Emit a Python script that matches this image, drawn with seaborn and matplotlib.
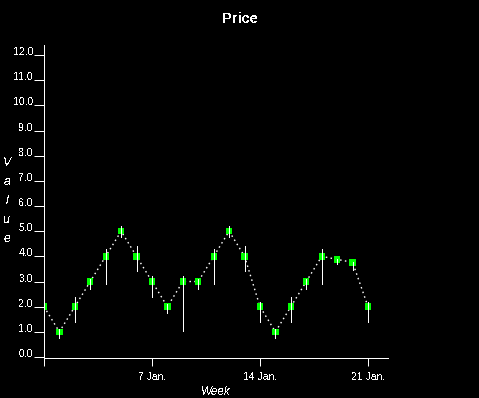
import matplotlib
matplotlib.use("Agg")
import matplotlib.pyplot as plt
import pandas as pd
import seaborn as sns

# ---- data ----
days = list(range(22))
close = [2.0, 1.0, 2.0, 3.0, 4.0, 5.0, 4.0, 3.0, 2.0, 3.0, 3.0,
         4.0, 5.0, 4.0, 2.0, 1.0, 2.0, 3.0, 4.0, 3.88, 3.76, 2.0]
high = [2.2, 1.1, 2.4, 3.1, 4.3, 5.2, 4.4, 3.2, 2.1, 3.2, 3.1,
        4.3, 5.2, 4.4, 2.2, 1.1, 2.4, 3.1, 4.3, 3.9, 3.76, 2.2]
low = [1.4, 0.75, 1.4, 2.7, 2.9, 4.75, 3.4, 2.4, 1.75, 1.05, 2.7,
       2.9, 4.75, 3.4, 1.4, 0.75, 1.4, 2.7, 2.9, 3.68, 3.44, 1.4]
x_ticks = [0, 7, 14, 21]
x_tick_labels = ["", "7 Jan.", "14 Jan.", "21 Jan."]
y_ticks = list(range(13))
y_tick_labels = ["0.0", "1.0", "2.0", "3.0", "4.0", "5.0", "6.0",
                 "7.0", "8.0", "9.0", "10.0", "11.0", "12.0"]
title = "Price"
x_label = "Week"
y_label = "Value"

sns.set_theme(style="dark", rc={
    "figure.facecolor": "black",
    "axes.facecolor": "black",
    "axes.edgecolor": "white",
    "axes.grid": False,
    "text.color": "white",
    "xtick.color": "white",
    "ytick.color": "white",
})
plt.rcParams["font.family"] = ["Liberation Sans", "DejaVu Sans"]
plt.rcParams["text.antialiased"] = False
plt.rcParams["lines.antialiased"] = False

df = pd.DataFrame({"day": days, "close": close, "high": high, "low": low})

W, H = 479, 398
PX = 0.72  # one pixel in points
fig = plt.figure(figsize=(W / 100, H / 100), dpi=100)
ax = fig.add_axes([43.5 / W, 40 / H, (388 - 43.5) / W, (358 - 45) / H])

sns.lineplot(data=df, x="day", y="close", ax=ax, color="white",
             linewidth=1.0, linestyle=(0, (1.1, 2.4)), zorder=2,
             antialiased=True)
sns.scatterplot(data=df, x="day", y="close", ax=ax, marker="s", s=21,
                color="#00ff00", edgecolor="none", linewidth=0, zorder=3,
                antialiased=False)
ax.vlines(df["day"], df["low"], df["high"], color="white",
          linewidth=PX, zorder=4, antialiased=False)

ax.set_xlim(-0.03, (388 - 44) / 15.43)
ax.set_ylim(-0.04, 12.40)

for side in ["top", "right"]:
    ax.spines[side].set_visible(False)
for side in ["left", "bottom"]:
    ax.spines[side].set_color("white")
    ax.spines[side].set_linewidth(PX)
    ax.spines[side].set_antialiased(False)

ax.set_yticks(y_ticks)
ax.set_yticklabels(y_tick_labels)
ax.set_xticks(x_ticks)
ax.set_xticklabels(x_tick_labels)
ax.tick_params(axis="y", direction="out", length=7.5, width=PX, pad=0,
               labelsize=7.5, labelcolor="white", left=True)
ax.tick_params(axis="x", direction="out", length=5.8, width=PX, pad=4.5,
               labelsize=7.5, labelcolor="white", bottom=True)
for lab in ax.get_yticklabels():
    lab.set_verticalalignment("baseline")

ax.set_xlabel(x_label, fontsize=8.5, style="italic", color="white", labelpad=3)
ax.set_ylabel("")

fig.text(240 / W, 1 - 19 / H, title, ha="center", va="center",
         fontsize=10.5, fontweight="bold", color="white")
fig.text(7 / W, 1 - 201 / H, "\n".join(y_label), ha="center", va="center",
         fontsize=9, style="italic", color="white", linespacing=1.75)

fig.savefig("out.png", dpi=100, facecolor="black")
